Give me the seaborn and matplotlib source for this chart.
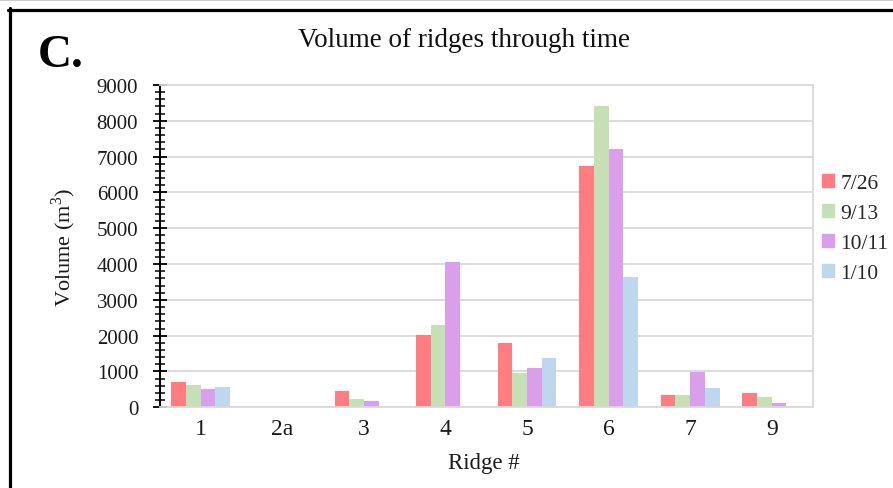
import matplotlib
matplotlib.use("Agg")
import matplotlib.pyplot as plt
from matplotlib.lines import Line2D
from matplotlib.ticker import MultipleLocator
import seaborn as sns
import pandas as pd

ridges = ['1', '2a', '3', '4', '5', '6', '7', '9']
dates = ['7/26', '9/13', '10/11', '1/10']
v_0726 = [700, 0, 465, 2020, 1790, 6750, 345, 410]
v_0913 = [630, 0, 230, 2310, 950, 8425, 345, 290]
v_1011 = [520, 0, 170, 4050, 1090, 7205, 980, 110]
v_0110 = [575, 0, 0, 0, 1385, 3630, 530, 0]
colors = ['#FF7C80', '#C5E0B4', '#DA9EEA', '#BDD7EE']
y_ticks = [0, 1000, 2000, 3000, 4000, 5000, 6000, 7000, 8000, 9000]

series = [v_0726, v_0913, v_1011, v_0110]
rows = []
for d, vals in zip(dates, series):
    for r, v in zip(ridges, vals):
        rows.append({'ridge': r, 'date': d, 'volume': v})
df = pd.DataFrame(rows)

sns.set_theme(style='white')
plt.rcParams['font.family'] = ['Liberation Serif', 'DejaVu Serif']
plt.rcParams['mathtext.fontset'] = 'custom'
plt.rcParams['mathtext.rm'] = 'Liberation Serif'

fig = plt.figure(figsize=(8.93, 4.89), dpi=100)
ax = fig.add_axes([160/893, 1-408.3/489, (812.5-160)/893, (408.3-86)/489])

sns.barplot(data=df, x='ridge', y='volume', hue='date', hue_order=dates,
            order=ridges, palette=dict(zip(dates, colors)), width=0.72, gap=0,
            saturation=1, errorbar=None, ax=ax, legend=False, linewidth=0,
            edgecolor='none')

ax.set_ylim(0, 9000)
ax.set_yticks(y_ticks)
ax.yaxis.set_minor_locator(MultipleLocator(200))
ax.grid(axis='y', which='major', color='#D9D9D9', lw=1.3)
ax.set_axisbelow(True)
for s in ['top', 'right', 'bottom']:
    ax.spines[s].set_color('#D9D9D9')
    ax.spines[s].set_linewidth(1.3)
ax.spines['left'].set_color('black')
ax.spines['left'].set_linewidth(1.4)
ax.tick_params(axis='y', which='major', direction='inout', length=9.4, width=1.3,
               color='black', labelsize=15, pad=11, left=True)
ax.tick_params(axis='y', which='minor', direction='inout', length=6.5, width=1.1,
               color='black', left=True)
ax.tick_params(axis='x', length=0, labelsize=17, pad=8)
for lab in ax.get_yticklabels() + ax.get_xticklabels():
    lab.set_color('#1A1A1A')

ax.set_xlabel('Ridge #', fontsize=16.5, color='#1A1A1A')
ax.xaxis.set_label_coords((483.5-160)/(812.5-160), -(464-408.3)/(408.3-86))
ax.xaxis.label.set_va('center')
ax.set_ylabel('Volume (m$^3$)', fontsize=16, color='#1A1A1A')
ax.yaxis.set_label_coords(-(160-64)/(812.5-160), 0.5)
ax.yaxis.label.set_va('center')

handles = [plt.Rectangle((0, 0), 1, 1, color=c) for c in colors]
fig.legend(handles, dates, loc='center left', bbox_to_anchor=(822/893, 1-229.5/489),
           frameon=False, fontsize=15.5, handlelength=0.56, handleheight=0.56,
           handletextpad=0.3, labelspacing=0.5, borderpad=0, borderaxespad=0)

fig.text(464.5/893, 1-47/489, 'Volume of ridges through time', ha='center',
         va='baseline', fontsize=19.5, color='#111111')
fig.text(38/893, 1-67/489, 'C.', ha='left', va='baseline', fontsize=34,
         fontweight='bold', color='black')

fig.add_artist(Line2D([8/893, 1], [1-10.5/489, 1-10.5/489], color='black', lw=2.3,
                      transform=fig.transFigure))
fig.add_artist(Line2D([10/893, 10/893], [0, 1-9/489], color='black', lw=2.3,
                      transform=fig.transFigure))
fig.add_artist(Line2D([0, 1], [1-1/489, 1-1/489], color='#CCCCCC', lw=1.5,
                      transform=fig.transFigure))

fig.savefig('out.png', dpi=100)
